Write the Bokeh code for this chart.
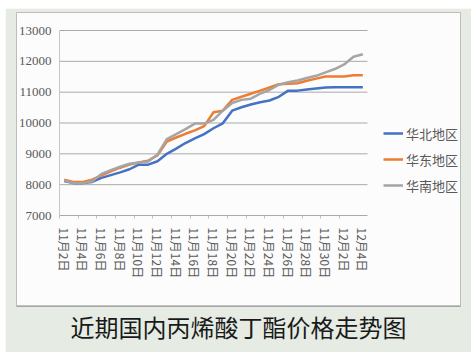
from bokeh.plotting import figure
from bokeh.models import (Range1d, LinearAxis, FixedTicker, Legend, LegendItem,
                          Title, Span, Spacer)
from bokeh.layouts import column, row
from bokeh.embed import file_html
from bokeh.resources import INLINE

# ---------------- data ----------------
dates = ["11月2日", "11月3日", "11月4日", "11月5日", "11月6日", "11月7日", "11月8日",
         "11月9日", "11月10日", "11月11日", "11月12日", "11月13日", "11月14日",
         "11月15日", "11月16日", "11月17日", "11月18日", "11月19日", "11月20日",
         "11月21日", "11月22日", "11月23日", "11月24日", "11月25日", "11月26日",
         "11月27日", "11月28日", "11月29日", "11月30日", "12月1日", "12月2日",
         "12月3日", "12月4日"]
huabei = [8120, 8050, 8050, 8090, 8220, 8310, 8400, 8500, 8650, 8650, 8760, 9000,
          9170, 9350, 9500, 9640, 9830, 9990, 10400, 10510, 10600, 10670, 10730,
          10850, 11050, 11050, 11090, 11120, 11150, 11160, 11160, 11160, 11160]
huadong = [8160, 8090, 8090, 8160, 8300, 8430, 8550, 8650, 8720, 8780, 8950, 9400,
           9530, 9650, 9760, 9900, 10350, 10400, 10750, 10850, 10950, 11050, 11150,
           11260, 11270, 11290, 11370, 11440, 11510, 11510, 11510, 11550, 11550]
huanan = [8140, 8050, 8050, 8110, 8350, 8470, 8580, 8680, 8720, 8750, 8980, 9480,
          9640, 9800, 9980, 9980, 10100, 10400, 10650, 10750, 10790, 10950, 11070,
          11240, 11320, 11380, 11460, 11530, 11640, 11750, 11900, 12150, 12230]
series_names = ["华北地区", "华东地区", "华南地区"]
y_ticks = [7000, 8000, 9000, 10000, 11000, 12000, 13000]
title_text = "近期国内丙烯酸丁酯价格走势图"

idx = list(range(len(dates)))
n = len(dates)

# ---------------- layout (pixels) ----------------
PAGE_W, PAGE_H = 475, 352
PANEL_L, PANEL_T, PANEL_R = 5, 8, 471          # green panel
BOX_L, BOX_T, BOX_R, BOX_B = 16, 12, 460, 306  # white chart box (= frame)
PLOT_L, PLOT_R = 59, 367                       # category axis span
Y_LO_PX, Y_HI_PX = 215, 30                     # pixel rows of 7000 / 13000

cat_px = (PLOT_R - PLOT_L) / n
x0 = -0.5 - (PLOT_L - BOX_L) / cat_px
x1 = (n - 0.5) + (BOX_R - PLOT_R) / cat_px
y_per_px = (y_ticks[-1] - y_ticks[0]) / (Y_LO_PX - Y_HI_PX)
y1 = y_ticks[-1] + (Y_HI_PX - BOX_T) * y_per_px
y0 = y_ticks[0] - (BOX_B - Y_LO_PX) * y_per_px

GREEN = "#E6ECE4"
TXT = "#595959"

p = figure(width=PANEL_R - PANEL_L, height=PAGE_H - PANEL_T,
           x_range=Range1d(x0, x1), y_range=Range1d(y0, y1),
           x_axis_type=None, y_axis_type=None,
           toolbar_location=None, output_backend="svg",
           min_border_left=BOX_L - PANEL_L, min_border_right=PANEL_R - BOX_R,
           min_border_top=BOX_T - PANEL_T, min_border_bottom=PAGE_H - BOX_B)
p.border_fill_color = GREEN
p.background_fill_color = "#FCFCFC"
p.outline_line_color = "#BDBDBD"
p.outline_line_width = 1
p.grid.visible = False

# grid lines and axis lines
p.segment(x0=[-0.5] * len(y_ticks), y0=y_ticks, x1=[n - 0.5] * len(y_ticks), y1=y_ticks,
          line_color="#A9A9A9", line_width=1)
p.segment(x0=[-0.5], y0=[y_ticks[0]], x1=[-0.5], y1=[y_ticks[-1]],
          line_color="#C8C8C8", line_width=1)

# bottom shadow of the chart box
p.add_layout(Span(location=y0, dimension="width", line_color="#8C8C8C", line_width=2))

# y axis
yaxis = LinearAxis(fixed_location=-0.5, ticker=FixedTicker(ticks=y_ticks),
                   major_tick_out=0, major_tick_in=0, minor_tick_out=0, minor_tick_in=0,
                   axis_line_color=None, major_label_standoff=8,
                   major_label_text_font="Liberation Sans Narrow",
                   major_label_text_font_size="13px", major_label_text_color=TXT)
p.add_layout(yaxis, "left")

# x axis labels (every second category)
lab_ticks = idx[::2]
xaxis = LinearAxis(fixed_location=y_ticks[0], ticker=FixedTicker(ticks=lab_ticks),
                   major_label_overrides={i: dates[i] for i in lab_ticks},
                   major_label_orientation="vertical",
                   major_tick_out=0, major_tick_in=0, minor_tick_out=0, minor_tick_in=0,
                   axis_line_color=None, major_label_standoff=12,
                   major_label_text_font="Noto Sans CJK SC",
                   major_label_text_font_size="12px", major_label_text_color=TXT)
p.add_layout(xaxis, "below")

# x axis tick marks (between category pairs)
mark_ticks = [i - 0.5 for i in idx[::2][:-1]]
xmarks = LinearAxis(fixed_location=y_ticks[0], ticker=FixedTicker(ticks=mark_ticks),
                    major_label_overrides={t: "" for t in mark_ticks},
                    major_tick_out=3, major_tick_in=0, minor_tick_out=0, minor_tick_in=0,
                    major_tick_line_color="#BFBFBF", axis_line_color=None)
p.add_layout(xmarks, "below")

colors = ["#4472C4", "#ED7D31", "#A5A5A5"]
renderers = []
for vals, col in zip([huabei, huadong, huanan], colors):
    r = p.line(idx, vals, line_color=col, line_width=2.5, line_join="round")
    renderers.append(r)

legend = Legend(items=[LegendItem(label=nm, renderers=[r])
                       for nm, r in zip(series_names, renderers)],
                location=(383 - BOX_L, BOX_B - 195),
                glyph_width=20, glyph_height=20, label_height=20, label_width=40,
                spacing=6, padding=0, margin=0, label_standoff=3,
                border_line_color=None, background_fill_alpha=0,
                label_text_font="Noto Sans CJK SC", label_text_font_size="13px",
                label_text_color=TXT)
p.add_layout(legend)

title = Title(text=title_text, align="center", standoff=0,
              text_font="Noto Sans CJK SC", text_font_size="24px",
              text_font_style="normal", text_color="#1A1A1A")
p.add_layout(title, "below")

layout = column(Spacer(width=PAGE_W, height=PANEL_T),
                row(Spacer(width=PANEL_L, height=PAGE_H - PANEL_T), p))

open("out.html", "w").write(file_html(layout, INLINE))
